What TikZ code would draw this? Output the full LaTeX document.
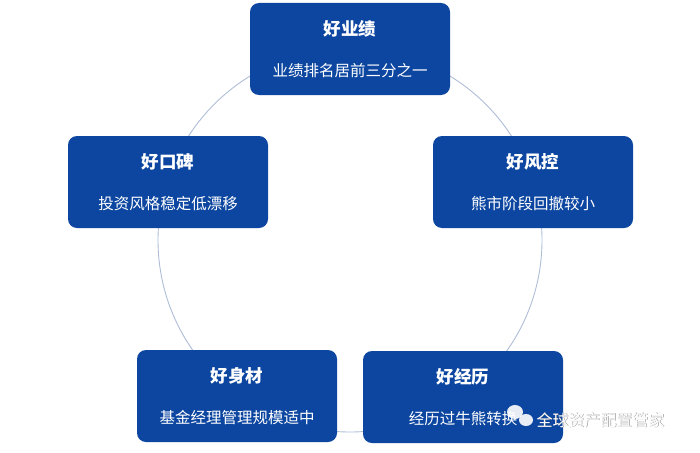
\documentclass[tikz,border=0pt]{standalone}
\usepackage{fontspec}
\newfontfamily\cjk{Noto Sans CJK SC}
\begin{document}
\begin{tikzpicture}[x=1pt,y=-1pt,
  box/.style={draw=none,fill=boxblue,rounded corners=9pt,minimum width=200pt,minimum height=92pt},
  ttl/.style={text=white,font=\cjk\bfseries\fontsize{17.5}{19}\selectfont},
  sub/.style={text=white,font=\cjk\fontsize{15.5}{17}\selectfont}]
\definecolor{boxblue}{HTML}{0C46A0}
\definecolor{ring}{HTML}{AEBDD6}
\useasboundingbox (0,0) rectangle (700,452);
\node[circle,draw=ring,line width=0.9pt,minimum size=384pt] (ring) at (350,240) {};
\foreach \n/\x/\y/\t/\s in {a/350/49/好业绩/业绩排名居前三分之一,
  b/533/182/好风控/熊市阶段回撤较小,
  c/463/397/好经历/经历过牛熊转换,
  d/237/396/好身材/基金经理管理规模适中,
  e/168/182/好口碑/投资风格稳定低漂移}{
  \node[box] (\n) at (\x,\y) {};
  \node[ttl] (\n t) at (\x,\y-20) {\t};
  \node[sub] (\n s) at (\x,\y+22) {\s};
}
\fill[white,opacity=0.9] (515,412) ellipse (8pt and 7pt);
\fill[white,opacity=0.9] (526,420) ellipse (7pt and 6pt);
\node[font=\cjk\fontsize{16}{18}\selectfont,anchor=west] (wm0) at (533.7,420.7) {\textcolor{gray}{全球资产配置管家}};
\node[text=white,font=\cjk\fontsize{16}{18}\selectfont,anchor=west] (wm) at (533,420) {全球资产配置管家};
\end{tikzpicture}
\end{document}
